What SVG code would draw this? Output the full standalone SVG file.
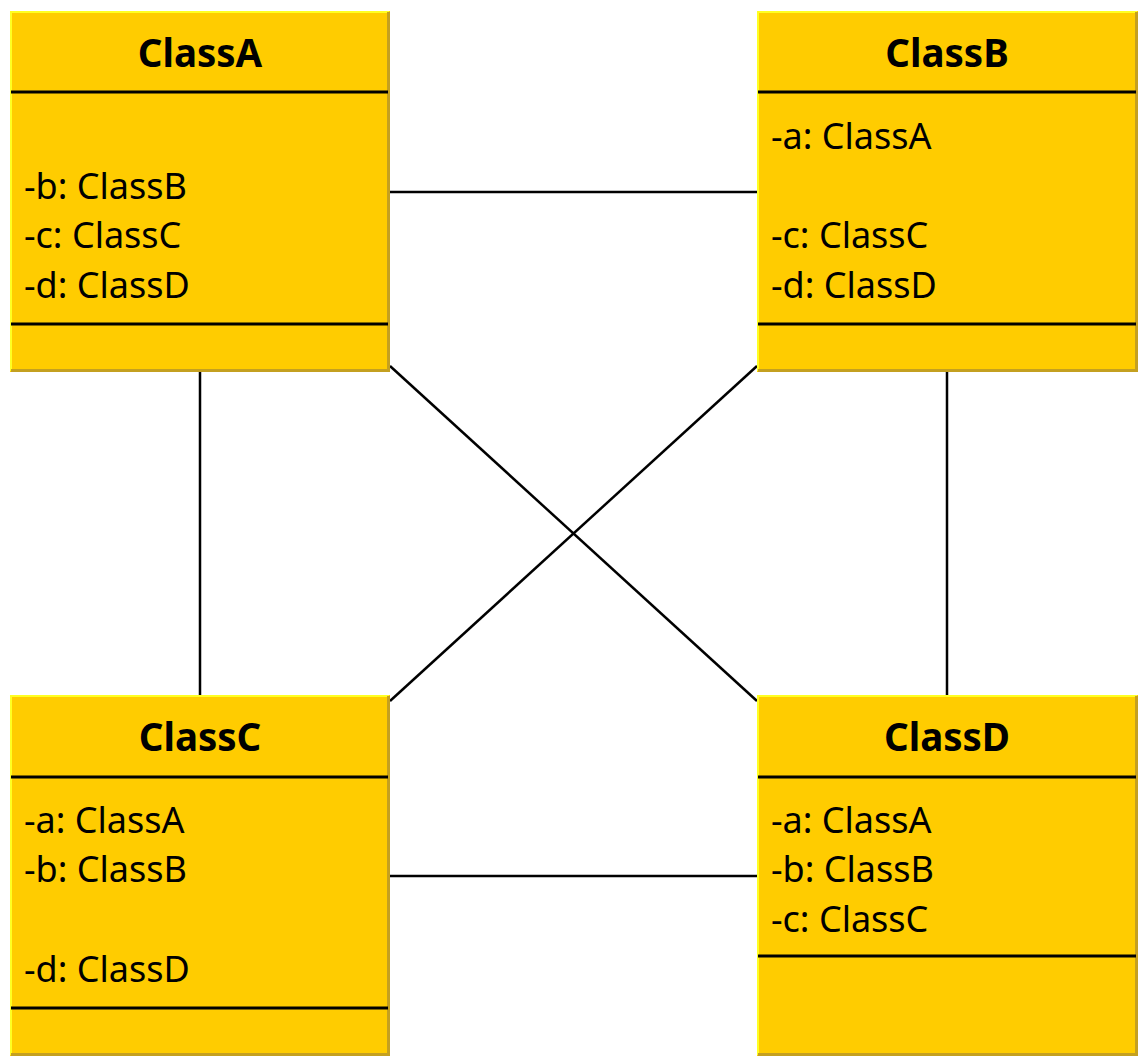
<svg xmlns="http://www.w3.org/2000/svg" width="1144" height="1062" viewBox="0 0 1144 1062">
<style>
.box{fill:#ffcc00;}
.hi{fill:none;stroke:#ffff22;stroke-width:2;}
.lo{fill:none;stroke:#c4a020;stroke-width:3;}
.div{stroke:#000;stroke-width:2.8;}
.title{font-family:"Noto Sans","Open Sans",sans-serif;font-weight:bold;font-size:38.5px;text-anchor:middle;fill:#000;}
.attr{font-family:"Noto Sans","Open Sans",sans-serif;font-size:36px;fill:#000;}
.conn line{stroke:#000;stroke-width:2.5;}
</style>
<rect width="1144" height="1062" fill="#fff"/>
<g id="connectors" class="conn">
<line x1="390" y1="192" x2="757" y2="192"/>
<line x1="200" y1="372" x2="200" y2="695"/>
<line x1="947" y1="372" x2="947" y2="695"/>
<line x1="390" y1="876" x2="757" y2="876"/>
<line x1="390" y1="366" x2="757" y2="701"/>
<line x1="757" y1="366" x2="390" y2="701"/>
</g>
<g id="ClassA">
<rect class="box" x="10" y="11" width="380" height="361"/>
<polyline class="hi" points="11,371 11,12 389,12"/>
<polyline class="lo" points="388.5,12 388.5,370.5 11,370.5"/>
<line class="div" x1="11" y1="92" x2="388" y2="92"/>
<line class="div" x1="11" y1="324" x2="388" y2="324"/>
<text class="title" x="200" y="67">ClassA</text>
<text class="attr" x="24" y="199">-b: ClassB</text>
<text class="attr" x="24" y="248">-c: ClassC</text>
<text class="attr" x="24" y="298">-d: ClassD</text>
</g>
<g id="ClassB">
<rect class="box" x="757" y="11" width="381" height="361"/>
<polyline class="hi" points="758,371 758,12 1137,12"/>
<polyline class="lo" points="1136.5,12 1136.5,370.5 758,370.5"/>
<line class="div" x1="758" y1="92" x2="1136" y2="92"/>
<line class="div" x1="758" y1="324" x2="1136" y2="324"/>
<text class="title" x="947" y="67">ClassB</text>
<text class="attr" x="771" y="149">-a: ClassA</text>
<text class="attr" x="771" y="248">-c: ClassC</text>
<text class="attr" x="771" y="298">-d: ClassD</text>
</g>
<g id="ClassC">
<rect class="box" x="10" y="695" width="380" height="361"/>
<polyline class="hi" points="11,1055 11,696 389,696"/>
<polyline class="lo" points="388.5,696 388.5,1054.5 11,1054.5"/>
<line class="div" x1="11" y1="777" x2="388" y2="777"/>
<line class="div" x1="11" y1="1008" x2="388" y2="1008"/>
<text class="title" x="200" y="751">ClassC</text>
<text class="attr" x="24" y="833">-a: ClassA</text>
<text class="attr" x="24" y="882">-b: ClassB</text>
<text class="attr" x="24" y="982">-d: ClassD</text>
</g>
<g id="ClassD">
<rect class="box" x="757" y="695" width="381" height="361"/>
<polyline class="hi" points="758,1055 758,696 1137,696"/>
<polyline class="lo" points="1136.5,696 1136.5,1054.5 758,1054.5"/>
<line class="div" x1="758" y1="777" x2="1136" y2="777"/>
<line class="div" x1="758" y1="956" x2="1136" y2="956"/>
<text class="title" x="947" y="751">ClassD</text>
<text class="attr" x="771" y="833">-a: ClassA</text>
<text class="attr" x="771" y="882">-b: ClassB</text>
<text class="attr" x="771" y="932">-c: ClassC</text>
</g>
</svg>
